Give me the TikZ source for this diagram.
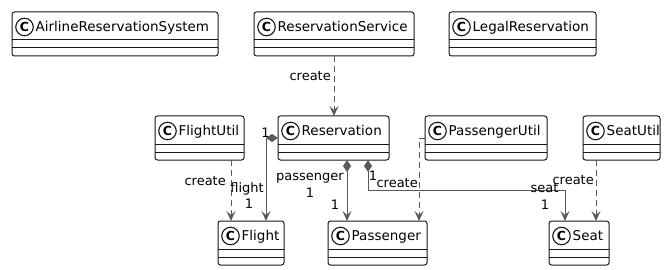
\documentclass[tikz,border=0pt]{standalone}
\usepackage{fontspec}
\setmainfont{DejaVu Sans}
\usetikzlibrary{arrows.meta}
\definecolor{colBorde}{HTML}{181818}
\definecolor{colLinea}{HTML}{5A5A5A}

\tikzset{
  cajaClase/.style={draw=colBorde, fill=white, line width=1pt, rounded corners=2.5pt,
    minimum height=44pt, inner sep=0pt, outer sep=0pt},
  iconoClase/.style={circle, draw=colBorde, line width=1.1pt, minimum size=17.5pt, inner sep=0pt,
    font=\fontsize{12.5}{12.5}\selectfont\bfseries},
  tituloClase/.style={anchor=base west, inner sep=0pt, font=\fontsize{13.5}{16}\selectfont},
  etiqueta/.style={inner sep=0pt, font=\fontsize{13}{15}\selectfont},
  dependencia/.style={colLinea, line width=1pt, dash pattern=on 6pt off 4pt,
    -{Stealth[length=10pt,width=9pt,inset=4pt]}},
  composicion/.style={colLinea, line width=1pt,
    {Diamond[length=12pt,width=8pt]}-{Stealth[length=10pt,width=9pt,inset=4pt]}},
}

% caja de clase: nombre, centro, ancho, titulo
\newcommand{\claseUML}[4]{%
  \node[cajaClase, minimum width=#3] (#1) at (#2) {};
  \draw[colBorde, line width=1pt] ([yshift=-28pt]#1.north west) -- ([yshift=-28pt]#1.north east);
  \draw[colBorde, line width=1pt] ([yshift=-36pt]#1.north west) -- ([yshift=-36pt]#1.north east);
  \node[iconoClase] (#1-icono) at ([xshift=12.5pt,yshift=-15pt]#1.north west) {C};
  \node[tituloClase] (#1-titulo) at ([xshift=23.5pt,yshift=-19.5pt]#1.north west) {#4};
}

\begin{document}
\begin{tikzpicture}[x=1pt, y=-1pt]
  \useasboundingbox (0,0) rectangle (670,270);

  % Fila superior
  \claseUML{ars}{115,34}{206pt}{AirlineReservationSystem}
  \claseUML{rsvc}{334,34}{160pt}{ReservationService}
  \claseUML{legal}{522.5,34}{147pt}{LegalReservation}

  % Fila central
  \claseUML{futil}{199.5,138}{89pt}{FlightUtil}
  \claseUML{res}{333.5,138}{111pt}{Reservation}
  \claseUML{putil}{486,138}{122pt}{PassengerUtil}
  \claseUML{sutil}{621.5,138}{77pt}{SeatUtil}

  % Fila inferior
  \claseUML{flight}{251,243}{66pt}{Flight}
  \claseUML{pass}{377.5,243}{99pt}{Passenger}
  \claseUML{seat}{579,243}{60pt}{Seat}

  % Dependencias (create)
  \draw[dependencia] (rsvc.south) -- (rsvc.south |- res.north);
  \draw[dependencia] ([xshift=31.5pt]futil.south) -- ([xshift=31.5pt]futil.south |- flight.north);
  \draw[dependencia] (putil.west) -| ([xshift=41.5pt]pass.north);
  \draw[dependencia] ([xshift=-25.5pt]sutil.south) -- ([xshift=-25.5pt]sutil.south |- seat.north);

  % Composiciones
  \draw[composicion] (res.west) -| ([xshift=15pt]flight.north);
  \draw[composicion] ([xshift=13.5pt]res.south) -- ([xshift=13.5pt]res.south |- pass.north);
  \draw[composicion] ([xshift=34.5pt]res.south) -- ++(0,30) -| ([xshift=-14pt]seat.north);

  % Etiquetas
  \node[etiqueta, anchor=base east] (lRsvc) at (331,80.5) {create};
  \node[etiqueta, anchor=base east] (lFutil) at (226,185) {create};
  \node[etiqueta, anchor=base east] (lPutil) at (418,187) {create};
  \node[etiqueta, anchor=base east] (lSutil) at (594,184) {create};
  \node[etiqueta, anchor=base] (mResF) at (265.5,138) {1};
  \node[etiqueta, anchor=base east] (rFlight) at (264,192) {flight};
  \node[etiqueta, anchor=base] (mFlight) at (249,208) {1};
  \node[etiqueta, anchor=base] (rPass) at (310,180) {passenger};
  \node[etiqueta, anchor=base] (mResP) at (310,197) {1};
  \node[etiqueta, anchor=base] (mPass) at (335,209) {1};
  \node[etiqueta, anchor=base] (mResS) at (373,180) {1};
  \node[etiqueta, anchor=base] (rSeat) at (544.5,192) {seat};
  \node[etiqueta, anchor=base] (mSeat) at (545,209) {1};
\end{tikzpicture}
\end{document}
